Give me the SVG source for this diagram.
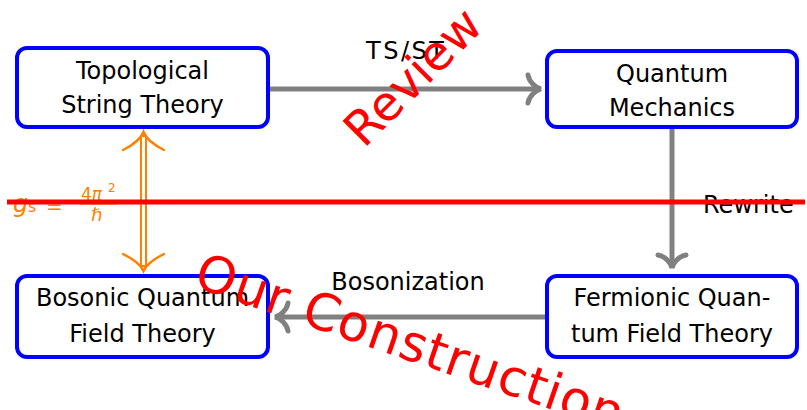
<svg xmlns="http://www.w3.org/2000/svg" width="807" height="410" viewBox="0 0 807 410">
  <defs>
    <style>
      .box { fill: #ffffff; stroke: #0000ff; stroke-width: 4; }
      .txt { font-family: "DejaVu Sans", "Liberation Sans", sans-serif; font-size: 24px; fill: #000000; text-anchor: middle; }
      .lbl { font-family: "DejaVu Sans", "Liberation Sans", sans-serif; font-size: 24px; fill: #000000; }
      .edge { fill: none; stroke: #808080; stroke-width: 5; }
      .orange { font-family: "DejaVu Sans", "Liberation Sans", sans-serif; fill: #ff8000; }
      .stamp { font-family: "DejaVu Sans", "Liberation Sans", sans-serif; fill: #ff0000; }
    </style>
    <marker id="to" viewBox="-16 -17 20 34" markerWidth="20" markerHeight="34" refX="0" refY="0" orient="auto" markerUnits="userSpaceOnUse">
      <path d="M-13,-14 C-12,-7 -5,-1 0,0 C-5,1 -12,7 -13,14" fill="none" stroke="#808080" stroke-width="5" stroke-linecap="round"/>
    </marker>
  </defs>

  <rect width="807" height="410" fill="#ffffff"/>

  <!-- connectors -->
  <g id="connectors">
    <line class="edge" x1="270" y1="89" x2="541" y2="89" marker-end="url(#to)"/>
    <text class="lbl" x="366" y="59" letter-spacing="2.5">TS/ST</text>

    <line class="edge" x1="672" y1="129" x2="672" y2="268" marker-end="url(#to)"/>
    <text class="lbl" x="703" y="213">Rewrite</text>

    <line class="edge" x1="545" y1="317" x2="275" y2="317" marker-end="url(#to)"/>
    <text class="lbl" x="408" y="290" text-anchor="middle">Bosonization</text>

    <!-- double-lined two-way arrow -->
    <g id="duality">
      <line x1="143.5" y1="135" x2="143.5" y2="267" stroke="#ff8000" stroke-width="7"/>
      <line x1="143.5" y1="137" x2="143.5" y2="265" stroke="#ffffff" stroke-width="3"/>
      <path d="M123,150 C131,146 140,141 143.5,132 C147,141 156,146 164,150" fill="none" stroke="#ff8000" stroke-width="2.5" stroke-linecap="round"/>
      <path d="M123,254 C131,258 140,263 143.5,271 C147,263 156,258 164,254" fill="none" stroke="#ff8000" stroke-width="2.5" stroke-linecap="round"/>
    </g>
    <g id="duality-label" class="orange">
      <text x="13" y="212" font-size="24" font-style="italic">g</text>
      <text x="28" y="212" font-size="16">s</text>
      <text x="46" y="213" font-size="20">=</text>
      <text x="81" y="200" font-size="17">4<tspan font-style="italic">π</tspan></text>
      <text x="108" y="192" font-size="12">2</text>
      <line x1="80" y1="204" x2="118" y2="204" stroke="#ff8000" stroke-width="1.2"/>
      <text x="91" y="221" font-size="18" font-style="italic">ℏ</text>
    </g>
  </g>

  <!-- nodes -->
  <g id="tst">
    <rect class="box" x="17" y="48" width="251" height="79" rx="10"/>
    <text class="txt" x="142.5" y="79">Topological</text>
    <text class="txt" x="142.5" y="113">String Theory</text>
  </g>
  <g id="qm">
    <rect class="box" x="547" y="51" width="250" height="76" rx="10"/>
    <text class="txt" x="672" y="82">Quantum</text>
    <text class="txt" x="672" y="116">Mechanics</text>
  </g>
  <g id="bqft">
    <rect class="box" x="17" y="276" width="251" height="81" rx="10"/>
    <text class="txt" x="142.5" y="306">Bosonic Quantum</text>
    <text class="txt" x="142.5" y="342">Field Theory</text>
  </g>
  <g id="fqft">
    <rect class="box" x="547" y="276" width="250" height="81" rx="10"/>
    <text class="txt" x="672" y="306">Fermionic Quan-</text>
    <text class="txt" x="672" y="342">tum Field Theory</text>
  </g>

  <!-- separator line -->
  <line x1="7" y1="202" x2="805" y2="202" stroke="#ff0000" stroke-width="5"/>

  <!-- overlaid stamps -->
  <text class="stamp" font-size="48" transform="translate(364,149) rotate(-45)">Review</text>
  <text class="stamp" font-size="51" letter-spacing="1" transform="translate(192,286) rotate(19)">Our Construction</text>
</svg>
